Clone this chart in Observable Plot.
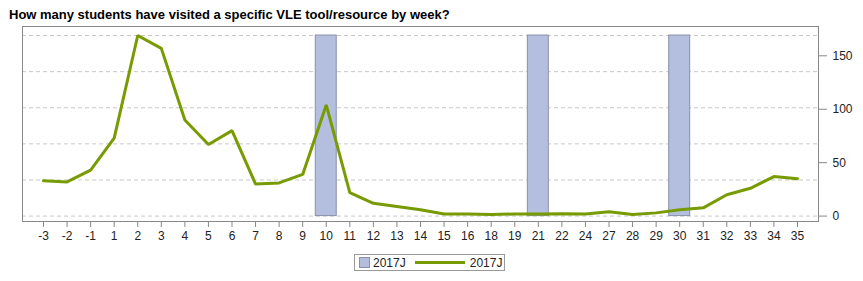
<!DOCTYPE html>
<html><head><meta charset="utf-8">
<script src="https://cdn.jsdelivr.net/npm/d3@7"></script>
<script src="https://cdn.jsdelivr.net/npm/@observablehq/plot@0.6"></script>
<style>
body{margin:0;background:#fff;font-family:"Liberation Sans",Arial,sans-serif;}
#wrap{position:relative;width:863px;height:281px;overflow:hidden;background:#fff;}
#chart{position:absolute;left:0;top:0;}
#title{position:absolute;left:9px;top:7px;font-weight:bold;font-size:13px;color:#000;white-space:nowrap;z-index:2;}
#legend{position:absolute;left:354px;top:254px;width:151px;height:17px;border:1px solid #999;box-sizing:border-box;display:flex;align-items:center;font-size:12px;color:#222;z-index:2;}
.sw{width:9px;height:9px;background:#b4bfe0;border:1px solid #8a90a8;margin-left:4px;margin-right:3px;}
.ln{width:50px;height:3px;background:#789b03;margin-left:9px;margin-right:5px;}
</style></head>
<body><div id="wrap"><div id="chart"></div><div id="title">How many students have visited a specific VLE tool/resource by week?</div>
<div id="legend"><span class="sw"></span><span>2017J</span><span class="ln"></span><span>2017J</span></div></div>
<script>
const weeks = ["-3","-2","-1","1","2","3","4","5","6","7","8","9","10","11","12","13","14","15","16","18","19","21","22","24","27","28","29","30","31","32","33","34","35"];
const visits = [33,32,43,73,169,157,90,67,80,30,31,39,104,22,12,9,6,2,2,1.4,2,2,2.3,2,4,1.4,3,6,7.7,20,26,37,35];
const highlightWeeks = ["10","21","30"];
const yTicks = [0,50,100,150];

const data = weeks.map((w,i)=>({week:w, visits:visits[i]}));
const ymax = d3.max(visits);
const grid = d3.range(6).map(i=>i*ymax/5);

const chart = Plot.plot({
  width: 863, height: 250,
  marginTop: 26, marginBottom: 29, marginLeft: 22, marginRight: 45,
  style: {fontFamily: "Liberation Sans, Arial, sans-serif", fontSize: "12px", color: "#222", background: "transparent"},
  x: {type: "band", domain: weeks, paddingInner: 0.11, paddingOuter: 0.446, round: false, label: null},
  y: {domain: [-ymax*0.03, ymax*1.05], label: null},
  marks: [
    Plot.ruleY(grid, {stroke: "#c8c8c8", strokeDasharray: "4,3"}),
    Plot.barY(highlightWeeks, {x: d=>d, y: ymax, fill: "#b4bfe0", stroke: "#8a90a8", strokeWidth: 1}),
    Plot.lineY(data, {x: "week", y: "visits", stroke: "#789b03", strokeWidth: 3, strokeLinejoin: "miter"}),
    Plot.frame({stroke: "#888"}),
    Plot.axisX({tickSize: 6, tickPadding: 4, stroke: "#888", label: null}),
    Plot.axisY({anchor: "right", ticks: yTicks, tickSize: 8, tickPadding: 6, stroke: "#888", label: null})
  ]
});
document.getElementById("chart").appendChild(chart);
</script>
</body></html>
